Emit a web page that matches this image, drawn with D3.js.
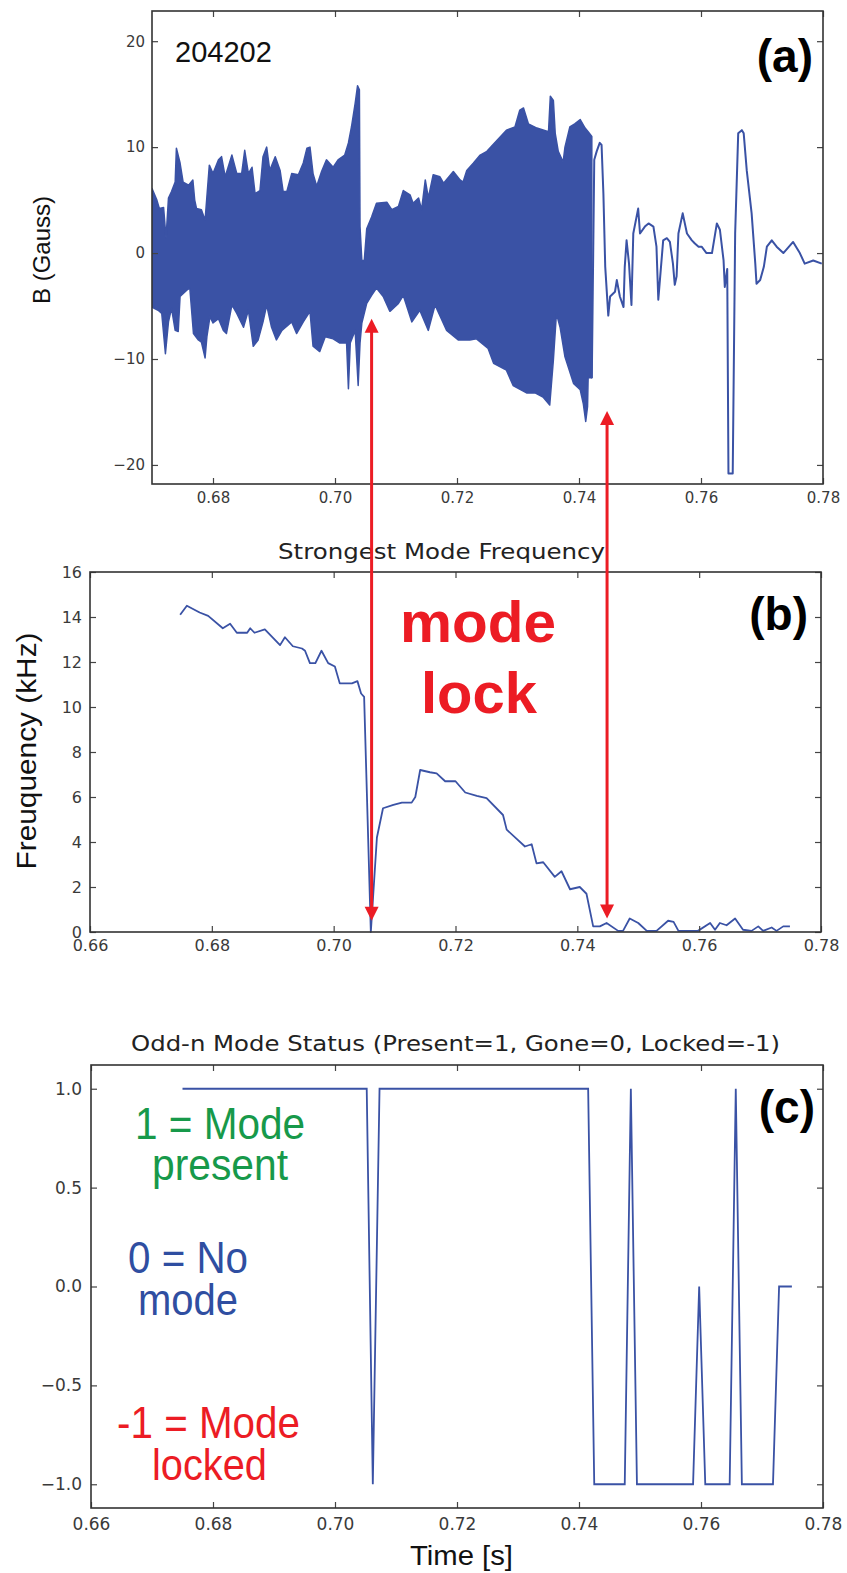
<!DOCTYPE html>
<html><head><meta charset="utf-8">
<script src="https://cdn.jsdelivr.net/npm/d3@7"></script>
<style>body{margin:0;background:#fff} svg{display:block}</style>
</head><body><svg id="c" width="847" height="1573"></svg>
<script>
// ================= DATA =================
const shotLabel = "204202";
// Panel (a): B (Gauss) vs time — upper / lower envelope of the dense oscillation [t, B]
const bUpper = [[0.6700,6.1],[0.6708,5.0],[0.6712,4.2],[0.6719,4.3],[0.6723,1.4],[0.6727,5.2],[0.6732,5.8],[0.6738,6.7],[0.6740,9.9],[0.6746,8.5],[0.6751,6.7],[0.6760,6.4],[0.6767,6.9],[0.6770,5.0],[0.6773,4.2],[0.6781,4.1],[0.6787,3.1],[0.6790,5.3],[0.6794,8.3],[0.6800,7.5],[0.6809,8.8],[0.6814,9.1],[0.6820,7.2],[0.6831,9.25],[0.6839,7.5],[0.6847,7.5],[0.6852,9.7],[0.6858,7.5],[0.6864,8.1],[0.6869,5.6],[0.6877,5.9],[0.6882,9.1],[0.6888,10.0],[0.6893,7.8],[0.6902,9.1],[0.6910,7.8],[0.6915,5.8],[0.6921,5.8],[0.6929,7.5],[0.6940,7.4],[0.6948,8.5],[0.6954,9.9],[0.6959,10.0],[0.6964,7.5],[0.6970,6.3],[0.6978,7.7],[0.6986,8.8],[0.6997,8.1],[0.7005,8.8],[0.7016,9.25],[0.7022,10.4],[0.7027,11.9],[0.7033,14.1],[0.7037,15.8],[0.7040,15.4],[0.7041,2.5],[0.7044,-0.7],[0.7048,-0.7],[0.7052,2.3],[0.7060,3.4],[0.7068,4.7],[0.7085,4.8],[0.7093,4.1],[0.7104,4.4],[0.7112,5.9],[0.7123,5.5],[0.7128,4.7],[0.7137,5.2],[0.7142,4.1],[0.7148,6.9],[0.7153,5.2],[0.7161,7.4],[0.7172,7.2],[0.7178,6.6],[0.7194,7.7],[0.7205,6.9],[0.7210,6.7],[0.7216,7.8],[0.7227,8.5],[0.7238,9.25],[0.7249,9.6],[0.7260,10.3],[0.7273,11.1],[0.7281,11.6],[0.7295,11.9],[0.7303,13.5],[0.7309,13.7],[0.7317,12.2],[0.7331,11.8],[0.7350,11.45],[0.7353,14.8],[0.7358,14.4],[0.7361,11.3],[0.7366,9.6],[0.7374,8.6],[0.7377,10.0],[0.7385,11.9],[0.7393,12.2],[0.7402,12.6],[0.7410,11.8],[0.7415,11.45],[0.7421,11.0]];
const bLower = [[0.6700,-5.1],[0.6710,-5.4],[0.6716,-5.7],[0.6722,-9.5],[0.6727,-6.5],[0.6732,-5.2],[0.6738,-7.3],[0.6743,-7.4],[0.6746,-4.1],[0.6757,-3.5],[0.6762,-3.3],[0.6768,-7.6],[0.6776,-8.2],[0.6781,-8.4],[0.6787,-9.9],[0.6790,-7.9],[0.6795,-6.0],[0.6800,-6.6],[0.6809,-6.2],[0.6817,-7.3],[0.6822,-7.6],[0.6831,-4.9],[0.6839,-5.7],[0.6850,-7.0],[0.6858,-5.4],[0.6866,-8.8],[0.6874,-8.2],[0.6882,-6.5],[0.6888,-4.9],[0.6896,-7.0],[0.6904,-8.2],[0.6913,-7.3],[0.6929,-6.5],[0.6937,-7.6],[0.6948,-6.5],[0.6959,-5.5],[0.6964,-8.8],[0.6975,-9.3],[0.6984,-7.9],[0.6997,-8.1],[0.7008,-8.5],[0.7019,-8.5],[0.7022,-12.8],[0.7025,-8.5],[0.7033,-7.3],[0.7038,-12.5],[0.7041,-8.5],[0.7044,-6.6],[0.7052,-4.75],[0.7060,-4.0],[0.7068,-3.3],[0.7079,-4.1],[0.7090,-5.5],[0.7104,-4.75],[0.7112,-4.0],[0.7126,-6.5],[0.7139,-5.4],[0.7153,-7.3],[0.7164,-4.9],[0.7183,-7.3],[0.7202,-8.2],[0.7221,-8.2],[0.7232,-8.1],[0.7251,-9.0],[0.7260,-10.4],[0.7281,-11.05],[0.7292,-12.5],[0.7314,-13.2],[0.7328,-13.2],[0.7341,-13.6],[0.7352,-14.35],[0.7358,-10.1],[0.7363,-5.7],[0.7369,-7.0],[0.7377,-9.8],[0.7391,-12.3],[0.7402,-12.9],[0.7407,-14.2],[0.7411,-15.9],[0.7414,-14.5],[0.7415,-11.7],[0.7421,-11.8]];
// Panel (a): single trace after the mode locks [t, B]
const bLine = [[0.7421,-11.8],[0.7425,8.8],[0.7429,9.6],[0.7434,10.4],[0.7437,10.2],[0.7440,5.6],[0.7443,-1.3],[0.7448,-5.9],[0.7451,-4.1],[0.7459,-3.65],[0.7462,-2.55],[0.7467,-4.1],[0.7473,-5.1],[0.7475,-1.3],[0.7478,1.2],[0.7482,-1.0],[0.7486,-4.9],[0.7489,1.85],[0.7497,4.2],[0.7500,1.85],[0.7508,2.5],[0.7514,2.8],[0.7522,2.5],[0.7527,0.6],[0.7530,-4.4],[0.7538,1.2],[0.7544,1.4],[0.7549,1.05],[0.7554,-1.0],[0.7557,-3.0],[0.7560,-2.2],[0.7563,1.85],[0.7570,3.75],[0.7577,1.85],[0.7585,1.2],[0.7590,0.9],[0.7596,0.6],[0.7601,0.6],[0.7609,0.0],[0.7618,0.0],[0.7626,2.8],[0.7631,2.2],[0.7637,-0.7],[0.7639,-3.2],[0.7643,-1.5],[0.7645,-20.8],[0.7652,-20.8],[0.7656,1.85],[0.7661,11.3],[0.7667,11.6],[0.7670,11.3],[0.7675,7.8],[0.7683,3.75],[0.7689,-1.0],[0.7691,-2.9],[0.7697,-2.55],[0.7703,-1.3],[0.7708,0.6],[0.7716,1.2],[0.7724,0.6],[0.7735,0.0],[0.7751,1.05],[0.7762,0.0],[0.7770,-1.0],[0.7784,-0.7],[0.7798,-1.0]];
// Panel (b): strongest mode frequency (kHz) [t, f]
const freq = [[0.6748,14.1],[0.6759,14.5],[0.6780,14.2],[0.6794,14.05],[0.6818,13.5],[0.6830,13.7],[0.6841,13.3],[0.6858,13.3],[0.6863,13.5],[0.6870,13.3],[0.6887,13.45],[0.6912,12.75],[0.6920,13.1],[0.6933,12.7],[0.6948,12.6],[0.6953,12.5],[0.6961,11.95],[0.6970,11.95],[0.6980,12.5],[0.6991,11.95],[0.7002,11.8],[0.7010,11.05],[0.7030,11.05],[0.7039,11.15],[0.7045,10.6],[0.7050,10.45],[0.7061,0.0],[0.7071,4.2],[0.7081,5.5],[0.7098,5.65],[0.7112,5.75],[0.7128,5.75],[0.7134,6.0],[0.7142,7.2],[0.7158,7.1],[0.7169,7.05],[0.7183,6.7],[0.7200,6.7],[0.7216,6.2],[0.7235,6.05],[0.7251,5.95],[0.7278,5.2],[0.7284,4.55],[0.7300,4.15],[0.7314,3.8],[0.7325,3.9],[0.7333,3.05],[0.7344,3.1],[0.7363,2.45],[0.7374,2.7],[0.7388,1.9],[0.7404,2.0],[0.7415,1.7],[0.7426,0.25],[0.7437,0.25],[0.7448,0.4],[0.7467,0.05],[0.7475,0.05],[0.7486,0.6],[0.7500,0.4],[0.7514,0.05],[0.7530,0.05],[0.7549,0.5],[0.7558,0.45],[0.7566,0.05],[0.7598,0.05],[0.7618,0.4],[0.7626,0.1],[0.7634,0.4],[0.7645,0.3],[0.7659,0.6],[0.7672,0.1],[0.7686,0.05],[0.7697,0.25],[0.7705,0.05],[0.7719,0.2],[0.7727,0.05],[0.7738,0.25],[0.7749,0.25]];
// Panel (c): odd-n mode status [t, status]
const status = [[0.675,1],[0.7052,1],[0.7062,-1],[0.7073,1],[0.7415,1],[0.7425,-1],[0.7475,-1],[0.7485,1],[0.7495,-1],[0.7587,-1],[0.7597,0],[0.7607,-1],[0.7647,-1],[0.7657,1],[0.7667,-1],[0.7718,-1],[0.7728,0],[0.7749,0]];
// Mode-lock markers: time, start (B, Gauss) and end (f, kHz)
const lockArrows = [[0.706,-6.2,0.5],[0.7446,-14.9,0.6]];
// Axis ticks and texts
const aTimeTicks = [0.68,0.70,0.72,0.74,0.76,0.78];
const aBTicks = [-20,-10,0,10,20];
const timeTicks = [0.66,0.68,0.70,0.72,0.74,0.76,0.78];
const fTicks = [0,2,4,6,8,10,12,14,16];
const sTicks = [-1.0,-0.5,0.0,0.5,1.0];
const titleB = "Strongest Mode Frequency";
const titleC = "Odd-n Mode Status (Present=1, Gone=0, Locked=-1)";
const yLabelA = "B (Gauss)", yLabelB = "Freuquency (kHz)", xLabelC = "Time [s]";
const panelTags = ["(a)","(b)","(c)"];
const lockText = ["mode","lock"];
const legendC = [["1 = Mode","present"],["0 = No","mode"],["-1 = Mode","locked"]];

// ================= DRAW =================
const svg = d3.select("#c");
const LINE = "#3a52a5", RED = "#ec1c24", GREEN = "#17994a", LBLUE = "#2f4ea1";
const TICKF = "DejaVu Sans, sans-serif", ARIAL = "Liberation Sans, Arial, sans-serif";

const xA = d3.scaleLinear([0.67,0.78],[152,823]);
const yA = d3.scaleLinear([-21.8,22.85],[484,11]);
const xB = d3.scaleLinear([0.66,0.78],[90,821]);
const yB = d3.scaleLinear([0,16],[932,572]);
const xC = d3.scaleLinear([0.66,0.78],[91,823]);
const yC = d3.scaleLinear([-1.12,1.12],[1508,1065]);

function axes(x, y, xt, yt, xf, yf, fs, xpad, ypad){
  const [x0,x1] = x.range(), [y0,y1] = y.range();
  const g = svg.append("g");
  const ax = [
    g.append("g").attr("transform",`translate(0,${y0})`).call(d3.axisBottom(x).tickValues(xt).tickFormat(xf).tickSize(-6).tickPadding(xpad)),
    g.append("g").attr("transform",`translate(0,${y1})`).call(d3.axisTop(x).tickValues(xt).tickFormat("").tickSize(-6)),
    g.append("g").attr("transform",`translate(${x0},0)`).call(d3.axisLeft(y).tickValues(yt).tickFormat(yf).tickSize(-6).tickPadding(ypad)),
    g.append("g").attr("transform",`translate(${x1},0)`).call(d3.axisRight(y).tickValues(yt).tickFormat("").tickSize(-6))
  ];
  ax.forEach(a=>{
    a.select(".domain").remove();
    a.selectAll("line").attr("stroke","#444").attr("stroke-width",1.2);
    a.selectAll("text").attr("fill","#3a3a3a").attr("font-family",TICKF).attr("font-size",fs);
  });
  g.append("rect").attr("x",x0).attr("y",y1).attr("width",x1-x0).attr("height",y0-y1)
    .attr("fill","none").attr("stroke","#333").attr("stroke-width",1.6);
  return g;
}

// ---------- Panel (a) ----------
svg.append("clipPath").attr("id","clipA").append("rect")
  .attr("x",152).attr("y",11).attr("width",671).attr("height",473);
const gA = svg.append("g").attr("clip-path","url(#clipA)");
const poly = bUpper.concat(bLower.slice().reverse());
gA.append("path").attr("d", d3.line().x(d=>xA(d[0])).y(d=>yA(d[1]))(poly)+"Z")
  .attr("fill",LINE).attr("stroke",LINE).attr("stroke-width",1.5).attr("stroke-linejoin","round");
gA.append("path").attr("d", d3.line().x(d=>xA(d[0])).y(d=>yA(d[1]))(bLine))
  .attr("fill","none").attr("stroke",LINE).attr("stroke-width",2).attr("stroke-linejoin","round");
axes(xA, yA, aTimeTicks, aBTicks, d3.format(".2f"), d3.format("d"), 15, 8, 7);
svg.append("text").attr("x",175).attr("y",62).attr("font-family",ARIAL).attr("font-size",29)
  .attr("fill","#111").text(shotLabel);
svg.append("text").attr("transform","translate(50,250) rotate(-90)").attr("text-anchor","middle")
  .attr("font-family",ARIAL).attr("font-size",24).attr("fill","#111").text(yLabelA);

// ---------- Panel (b) ----------
svg.append("path").attr("d", d3.line().x(d=>xB(d[0])).y(d=>yB(d[1]))(freq))
  .attr("fill","none").attr("stroke",LINE).attr("stroke-width",1.8).attr("stroke-linejoin","round");
axes(xB, yB, timeTicks, fTicks, d3.format(".2f"), d3.format("d"), 16, 8, 8);
svg.append("text").attr("x",278).attr("y",559).attr("font-family",TICKF).attr("font-size",21)
  .attr("fill","#222").attr("textLength",327).attr("lengthAdjust","spacingAndGlyphs").text(titleB);
svg.append("text").attr("transform","translate(36,751) rotate(-90)").attr("text-anchor","middle")
  .attr("font-family",ARIAL).attr("font-size",28).attr("fill","#111")
  .attr("textLength",237).attr("lengthAdjust","spacingAndGlyphs").text(yLabelB);

// ---------- Panel (c) ----------
svg.append("path").attr("d", d3.line().x(d=>xC(d[0])).y(d=>yC(d[1]))(status))
  .attr("fill","none").attr("stroke",LINE).attr("stroke-width",1.8).attr("stroke-linejoin","miter");
axes(xC, yC, timeTicks, sTicks, d3.format(".2f"), d3.format(".1f"), 17, 10, 9);
svg.append("text").attr("x",131).attr("y",1051).attr("font-family",TICKF).attr("font-size",21)
  .attr("fill","#222").attr("textLength",649).attr("lengthAdjust","spacingAndGlyphs").text(titleC);
svg.append("text").attr("x",410).attr("y",1565).attr("font-family",ARIAL).attr("font-size",27)
  .attr("fill","#111").attr("textLength",103).attr("lengthAdjust","spacingAndGlyphs").text(xLabelC);

// legend texts in (c)
const legStyle = [
  {c:GREEN, x:[135,152], y:[1139,1180], w:[170,136]},
  {c:LBLUE, x:[128,138], y:[1273,1315], w:[120,100]},
  {c:RED,   x:[117,152], y:[1438,1480], w:[183,115]}
];
legendC.forEach((lines,i)=>{
  const s = legStyle[i];
  lines.forEach((t,j)=>{
    svg.append("text").attr("x",s.x[j]).attr("y",s.y[j]).attr("font-family",ARIAL).attr("font-size",45)
      .attr("fill",s.c).attr("textLength",s.w[j]).attr("lengthAdjust","spacingAndGlyphs").text(t);
  });
});

// panel tags
[[813,72],[808,630],[815,1123]].forEach((p,i)=>{
  svg.append("text").attr("x",p[0]).attr("y",p[1]).attr("text-anchor","end").attr("font-family",ARIAL)
    .attr("font-weight","bold").attr("font-size",46).attr("fill","#000").text(panelTags[i]);
});

// ---------- mode lock annotation ----------
const HL = 14, HW = 7;
lockArrows.forEach(a=>{
  const x = xA(a[0]), yt = yA(a[1]), yb = yB(a[2]);
  svg.append("line").attr("x1",x).attr("x2",x).attr("y1",yt+HL-2).attr("y2",yb-HL+2)
    .attr("stroke",RED).attr("stroke-width",3);
  svg.append("path").attr("d",`M${x},${yt}L${x-HW},${yt+HL}L${x+HW},${yt+HL}Z`).attr("fill",RED);
  svg.append("path").attr("d",`M${x},${yb}L${x-HW},${yb-HL}L${x+HW},${yb-HL}Z`).attr("fill",RED);
});
[[400,642,156],[421,713,116]].forEach((p,i)=>{
  svg.append("text").attr("x",p[0]).attr("y",p[1]).attr("font-family",ARIAL).attr("font-weight","bold")
    .attr("font-size",58).attr("fill",RED).attr("textLength",p[2]).attr("lengthAdjust","spacingAndGlyphs").text(lockText[i]);
});
</script></body></html>
